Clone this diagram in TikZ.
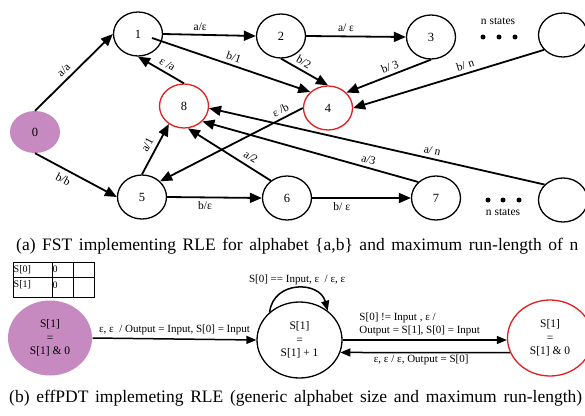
\documentclass[tikz,border=0pt]{standalone}
\usepackage{fontspec}
\setmainfont{Liberation Serif}
\usetikzlibrary{arrows.meta,calc,shapes.geometric}
\definecolor{purp}{RGB}{198,138,192}
\definecolor{redc}{RGB}{228,30,30}
\begin{document}
\begin{tikzpicture}[x=1pt,y=-1pt,
  st/.style={draw,ellipse,line width=1.3pt,minimum width=49pt,minimum height=44pt,inner sep=0pt,font=\fontsize{12.5}{12.5}\selectfont},
  redst/.style={st,draw=redc},
  big/.style={ellipse,line width=1.3pt,minimum width=85pt,minimum height=76pt,inner sep=0pt,align=center,font=\fontsize{11.5}{13.5}\selectfont},
  ea/.style={line width=1.8pt,-{Triangle[length=12pt,width=10pt]}},
  eb/.style={line width=1.5pt,-{Triangle[length=10pt,width=8pt]}},
  lab/.style={font=\fontsize{11.5}{11.5}\selectfont,inner sep=1.5pt},
  labb/.style={font=\fontsize{11}{13}\selectfont,inner sep=1pt},
  captext/.style={font=\fontsize{17.5}{17.5}\selectfont,inner sep=0pt,anchor=base west},
  dotc/.style={fill=black,circle,inner sep=0pt,minimum size=5pt}]
\useasboundingbox (0,0) rectangle (585,415);
% ---- part (a) ----
\node[ellipse,fill=purp,minimum width=50pt,minimum height=42pt,inner sep=0pt,font=\fontsize{12.5}{12.5}\selectfont] (n0) at (35,132) {0};
\node[st] (n1) at (138,34) {1};
\node[st] (n2) at (281,36) {2};
\node[st] (n3) at (431,37) {3};
\node[st] (nTR) at (563,35) {};
\node[redst] (n8) at (184,106) {8};
\node[redst] (n4) at (328,108) {4};
\node[st] (n5) at (142,197) {5};
\node[st] (n6) at (287,198) {6};
\node[st] (n7) at (436,198) {7};
\node[st] (nBR) at (563,200) {};
\node[dotc] (d1) at (483,37) {};
\node[dotc] (d2) at (499,37) {};
\node[dotc] (d3) at (515,37) {};
\node[lab] (ns1) at (498,21) {n states};
\node[dotc] (d4) at (488,200) {};
\node[dotc] (d5) at (503,200) {};
\node[dotc] (d6) at (519,200) {};
\node[lab] (ns2) at (503,212) {n states};

\draw[ea] (n0.north) -- node[lab,sloped,above=3pt,pos=0.45] {a/a} (n1.west);
\draw[ea] (n0.south) -- node[lab,sloped,below=3pt,pos=0.4] {b/b} (n5.west);
\draw[ea] (n1.east) -- node[lab,above=2pt,pos=0.4] {a/ε} (n2.west);
\draw[ea] ($(n1.center)+(14,4)$) -- node[lab,sloped,above=2pt,pos=0.5] {b/1} (n4.138);
\draw[ea] (n8.north) -- node[lab,sloped,above=2pt,pos=0.45] {ε /a} (n1.south);
\draw[ea] (n2.south) -- node[lab,sloped,above=2pt,pos=0.4] {b/2} (n4.north);
\draw[ea] (n2.east) -- node[lab,above=2pt,pos=0.4] {a/ ε} (n3.west);
\draw[ea] (n3.south) -- node[lab,sloped,above=2pt,pos=0.45] {b/ 3} (n4.40);
\draw[ea] (nTR.218) -- node[lab,sloped,above=2pt,pos=0.4] {b/ n} (n4.east);
\draw[ea] (n4.west) -- node[lab,sloped,above=2pt,pos=0.13] {ε /b} (n5.41);
\draw[ea] (nBR.140) -- node[lab,sloped,above=2pt,pos=0.34] {a/ n} (n8.-5);
\draw[ea] (n7.138) -- node[lab,sloped,above=2pt,pos=0.24] {a/3} (n8.-40);
\draw[ea] (n6.133) -- node[lab,sloped,above=3pt,pos=0.3] {a/2} (n8.-80);
\draw[ea] (n5.north) -- node[lab,sloped,above=3pt,pos=0.5] {a/1} (n8.-130);
\draw[ea] (n5.east) -- node[lab,below=2pt,pos=0.4] {b/ε} (n6.west);
\draw[ea] (n6.east) -- node[lab,below=2pt,pos=0.3] {b/ ε} (n7.west);

\node[captext] (capa) at (16,250) {\makebox[562pt][s]{(a) FST implementing RLE for alphabet \{a,b\} and maximum run-length of n}};

% ---- part (b) ----
\draw[line width=1pt] (13,262) rectangle (94,297);
\draw[line width=1pt] (13,277) -- (94,277);
\draw[line width=1pt] (52,262) -- (52,297);
\draw[line width=1pt] (73,262) -- (73,297);
\node[font=\fontsize{10}{10}\selectfont,anchor=west,inner sep=0pt] (t1) at (13.5,269.5) {S[0]};
\node[font=\fontsize{10}{10}\selectfont,anchor=west,inner sep=0pt] (t2) at (52.5,269.5) {0};
\node[font=\fontsize{10}{10}\selectfont,anchor=west,inner sep=0pt] (t3) at (13.5,285) {S[1]};
\node[font=\fontsize{10}{10}\selectfont,anchor=west,inner sep=0pt] (t4) at (52.5,285) {0};

\node[big,fill=purp,minimum width=84pt,minimum height=75pt] (nL) at (50,338) {S[1]\\=\\S[1] \& 0};
\node[big,draw=black] (nM) at (299.5,340) {S[1]\\=\\S[1] + 1};
\node[big,draw=redc] (nR) at (550,338) {S[1]\\=\\S[1] \& 0};

\draw[eb] (nL.east) -- node[labb,above=2pt] {ε, ε \ / Output = Input, S[0] = Input} (nM.west);
\draw[eb] (nM.137) .. controls +(4,-32) and +(-8,-30) .. node[labb,above=2pt] {S[0] == Input, ε \ / ε, ε} (nM.46);
\draw[eb] (nM.east) -- node[labb,above=2pt,align=left,xshift=-5pt] {S[0] != Input , ε /\\Output = S[1], S[0] = Input} (nM.east -| nR.west);
\draw[eb] (nR.200) -- node[labb,below=1pt,xshift=-4pt] {ε, ε / ε, Output = S[0]} (nM.-17);

\node[captext] (capb) at (9,402) {\makebox[573pt][s]{(b) effPDT implemeting RLE (generic alphabet size and maximum run-length)}};
\end{tikzpicture}
\end{document}
